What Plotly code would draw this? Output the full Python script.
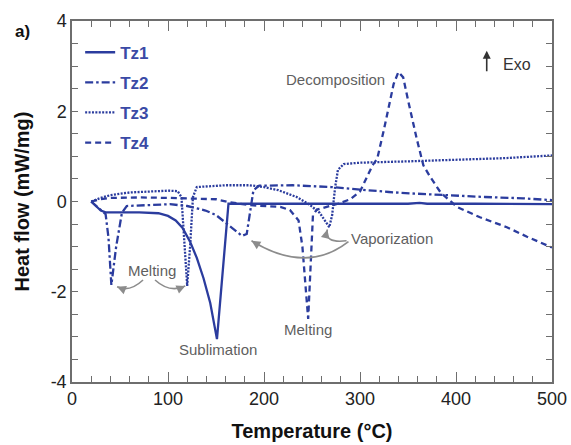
import plotly.graph_objects as go

# ---------------- data ----------------
tz1_x = [20, 25, 30, 35, 50, 70, 90, 100, 108, 115, 123, 130, 137, 144, 151, 163, 170, 250, 350, 362, 370, 420, 500]
tz1_y = [0, -0.1, -0.2, -0.24, -0.24, -0.24, -0.26, -0.32, -0.42, -0.58, -0.89, -1.25, -1.7, -2.25, -3.05, -0.05, -0.05, -0.05, -0.05, -0.03, -0.05, -0.05, -0.06]

tz2_x = [20, 25, 30, 35, 38, 41, 46, 52, 57, 80, 102, 120, 139, 150, 165, 177, 182, 186, 189, 195, 230, 270, 300, 330, 352, 394, 430, 470, 500]
tz2_y = [0, -0.1, -0.2, -0.28, -0.8, -1.85, -1.0, -0.25, -0.1, -0.08, -0.06, -0.1, -0.2, -0.3, -0.56, -0.76, -0.72, -0.1, 0.25, 0.35, 0.36, 0.32, 0.26, 0.21, 0.18, 0.13, 0.1, 0.07, 0.03]

tz3_x = [20, 30, 40, 60, 100, 110, 114, 117, 120, 123, 126, 130, 160, 185, 200, 215, 234, 248, 258, 268, 271, 274, 277, 283, 300, 350, 400, 450, 500]
tz3_y = [0, 0.08, 0.14, 0.2, 0.24, 0.23, 0.1, -1.0, -1.87, -1.0, 0.1, 0.32, 0.36, 0.36, 0.32, 0.25, 0.1, -0.08, -0.25, -0.57, -0.3, 0.3, 0.7, 0.83, 0.86, 0.89, 0.92, 0.96, 1.02]

tz4_x = [20, 30, 40, 70, 100, 130, 150, 165, 185, 217, 227, 236, 240, 246, 249, 251, 255, 277, 290, 300, 313, 318, 325, 330, 335, 340, 345, 350, 355, 359, 366, 373, 384, 401, 425, 453, 474, 500]
tz4_y = [0, 0.05, 0.08, 0.09, 0.08, 0.07, 0.05, -0.02, -0.08, -0.12, -0.19, -0.42, -1.0, -2.6, -1.3, -0.3, -0.18, -0.05, 0.05, 0.22, 0.8, 0.95, 1.6, 2.1, 2.6, 2.87, 2.75, 2.25, 1.75, 1.4, 0.8, 0.55, 0.2, -0.12, -0.35, -0.57, -0.78, -1.02]

series_names = ["Tz1", "Tz2", "Tz3", "Tz4"]
x_ticks = [0, 100, 200, 300, 400, 500]
y_ticks = [-4, -2, 0, 2, 4]
y_ticktext = ["-4", "-2", "0", "2", "4"]

# ---------------- styling ----------------
LINE = "#2b3c9e"
LEG = "#3a4aa6"
GRAY = "#8c8c8c"
TXT = "#5f5f5f"
FONT = "Liberation Sans, Arial, sans-serif"
dashes = ["solid", "8px,3px,2.5px,3px", "2px,1.4px", "6px,4px"]

fig = go.Figure()
for name, xs, ys, dsh in zip(series_names, [tz1_x, tz2_x, tz3_x, tz4_x],
                             [tz1_y, tz2_y, tz3_y, tz4_y], dashes):
    fig.add_trace(go.Scatter(x=xs, y=ys, mode="lines", name=name, legendgroup=name,
                             line=dict(color=LINE, width=2.3, dash=dsh)))

# curved gray arrows (quadratic bezier) + arrowheads
curves = [
    ((74, -1.74), (60, -2.02), (47, -1.89), 7.4, 3.0),
    ((86.5, -1.74), (102, -2.04), (118, -1.87), -7.3, 3.2),
    ((288, -0.89), (244, -1.62), (187, -0.87), 6.8, 4.2),
    ((286, -0.87), (262, -0.93), (266, -0.62), -2.0, 8.0),
]
shapes = []
annotations = []
for (p0, c, p1, ax, ay) in curves:
    shapes.append(dict(type="path", xref="x", yref="y",
                       path=f"M {p0[0]},{p0[1]} Q {c[0]},{c[1]} {p1[0]},{p1[1]}",
                       line=dict(color=GRAY, width=1.6)))
    annotations.append(dict(x=p1[0], y=p1[1], xref="x", yref="y", text="", showarrow=True,
                            ax=ax, ay=ay, arrowhead=2, arrowsize=1.1, arrowwidth=1.6,
                            arrowcolor=GRAY, standoff=0))

labels = [
    ("Decomposition", 274, 2.71),
    ("Vaporization", 333, -0.83),
    ("Melting", 246, -2.84),
    ("Melting", 83.4, -1.52),
    ("Sublimation", 152, -3.29),
]
for t, x, y in labels:
    annotations.append(dict(x=x, y=y, xref="x", yref="y", text=t, showarrow=False,
                            font=dict(family=FONT, size=15, color=TXT)))

# Exo arrow & label
annotations.append(dict(x=432, y=3.34, xref="x", yref="y", text="", showarrow=True,
                        ax=0, ay=22, arrowhead=2, arrowsize=1, arrowwidth=1.6,
                        arrowcolor="#333333", standoff=0))
annotations.append(dict(x=447, y=3.04, xref="x", yref="y", text="Exo", showarrow=False,
                        xanchor="left", font=dict(family=FONT, size=16, color="#333333")))
# panel label
annotations.append(dict(x=-0.104, y=0.97, xref="paper", yref="paper", text="<b>a)</b>", showarrow=False,
                        xanchor="center", yanchor="middle",
                        font=dict(family=FONT, size=17, color="#111111")))

fig.update_layout(
    width=571, height=445,
    margin=dict(l=72, r=19, t=21, b=63),
    paper_bgcolor="white", plot_bgcolor="white",
    font=dict(family=FONT, size=18, color="#222222"),
    showlegend=True,
    legend=dict(x=0.017, y=0.962, xanchor="left", yanchor="top",
                bgcolor="rgba(0,0,0,0)", tracegroupgap=5, traceorder="grouped",
                font=dict(family=FONT, size=17, color=LEG, weight="bold")),
    shapes=shapes,
    annotations=annotations,
)

axis_common = dict(showline=True, linecolor="#6e6e6e", linewidth=1.5, mirror="ticks",
                   ticks="inside", tickcolor="#6e6e6e", tickwidth=1.3,
                   showgrid=False, zeroline=False, automargin=False)
fig.update_xaxes(range=[0, 500], tickvals=x_ticks, ticklen=10,
                 minor=dict(dtick=20, ticks="inside", ticklen=6, tickcolor="#6e6e6e", tickwidth=1.3),
                 title=dict(text="<b>Temperature (°C)</b>", font=dict(family=FONT, size=20, color="#111111"), standoff=16),
                 tickfont=dict(size=18, color="#222222"), **axis_common)
fig.update_yaxes(range=[-4, 4], tickvals=y_ticks, ticktext=y_ticktext, ticklen=6,
                 minor=dict(dtick=0.5, ticks="inside", ticklen=6, tickcolor="#6e6e6e", tickwidth=1.3),
                 title=dict(text="<b>Heat flow (mW/mg)</b>", font=dict(family=FONT, size=20, color="#111111"), standoff=16),
                 tickfont=dict(size=18, color="#222222"), **axis_common)

fig.write_html("out.html")
